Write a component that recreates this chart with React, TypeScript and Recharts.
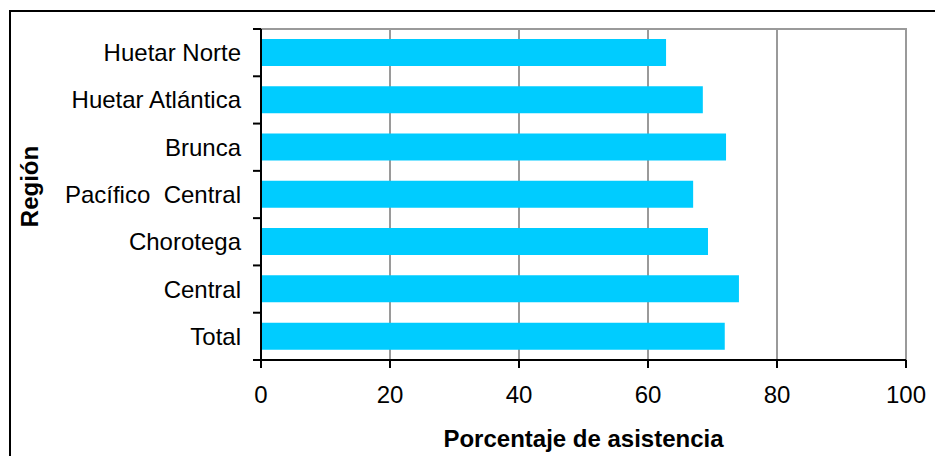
import * as React from "react";
import { BarChart, Bar, XAxis, YAxis, CartesianGrid, ReferenceArea } from "recharts";

const regions = [
    "Huetar Norte",
    "Huetar Atlántica",
    "Brunca",
    "Pacífico  Central",
    "Chorotega",
    "Central",
    "Total",
];
const asistencia = [62.8, 68.5, 72.1, 67.0, 69.3, 74.1, 71.9];
const xTicks = [0, 20, 40, 60, 80, 100];

const data = regions.map((region, i) => ({ region, value: asistencia[i] }));

const W = 935;
const H = 456;
const TOP = 29;
const YAXIS_W = 261;
const XAXIS_H = 96;
const FONT = "'Liberation Sans', Arial, sans-serif";
const FS = 24;

function RegionTick(props: any) {
    const { x, y, payload, index } = props;
    const band = (H - TOP - XAXIS_H) / regions.length;
    const ax = YAXIS_W;
    return (
        <g>
            <line x1={ax - 8} x2={ax} y1={y - band / 2} y2={y - band / 2} stroke="#000" strokeWidth={2} />
            {index === regions.length - 1 && (
                <line x1={ax - 8} x2={ax} y1={y + band / 2} y2={y + band / 2} stroke="#000" strokeWidth={2} />
            )}
            <text
                x={x}
                y={y}
                dy="0.355em"
                textAnchor="end"
                fill="#000"
                fontSize={FS}
                fontFamily={FONT}
                style={{ whiteSpace: "pre" }}
            >
                {payload.value}
            </text>
        </g>
    );
}

export default function App() {
    return (
        <div style={{ position: "absolute", left: 0, top: 0, width: W, height: H, overflow: "hidden", background: "#fff" }}>
            <div style={{ position: "absolute", left: 9, top: 10, width: 980, height: 500, border: "2px solid #000" }} />
            <div style={{ position: "absolute", left: 0, top: 0 }}>
                <BarChart
                    width={W}
                    height={H}
                    data={data}
                    layout="vertical"
                    margin={{ top: TOP, right: 29, bottom: 0, left: 0 }}
                    barCategoryGap="21%"
                >
                    <CartesianGrid horizontal={false} stroke="#9a9a9a" strokeWidth={2} />
                    <ReferenceArea x1={0} x2={100} fill="none" stroke="#9a9a9a" strokeWidth={2} />
                    <XAxis
                        type="number"
                        domain={[0, 100]}
                        ticks={xTicks}
                        height={XAXIS_H}
                        tickSize={8}
                        tickMargin={18}
                        axisLine={{ stroke: "#000", strokeWidth: 2 }}
                        tickLine={{ stroke: "#000", strokeWidth: 2 }}
                        tick={{ fill: "#000", fontSize: FS, fontFamily: FONT }}
                        label={{
                            value: "Porcentaje de asistencia",
                            position: "insideBottom",
                            offset: 9,
                            style: { fill: "#000", fontSize: FS, fontWeight: "bold", fontFamily: FONT },
                        }}
                    />
                    <YAxis
                        type="category"
                        dataKey="region"
                        width={YAXIS_W}
                        tickSize={8}
                        tickMargin={12}
                        tickLine={false}
                        axisLine={{ stroke: "#000", strokeWidth: 2 }}
                        tick={<RegionTick />}
                        interval={0}
                        label={{
                            value: "Región",
                            angle: -90,
                            position: "insideLeft",
                            offset: 29,
                            dy: -8,
                            style: { fill: "#000", fontSize: FS, fontWeight: "bold", fontFamily: FONT, textAnchor: "middle" },
                        }}
                    />
                    <Bar dataKey="value" fill="#00CCFF" isAnimationActive={false} />
                </BarChart>
            </div>
        </div>
    );
}
